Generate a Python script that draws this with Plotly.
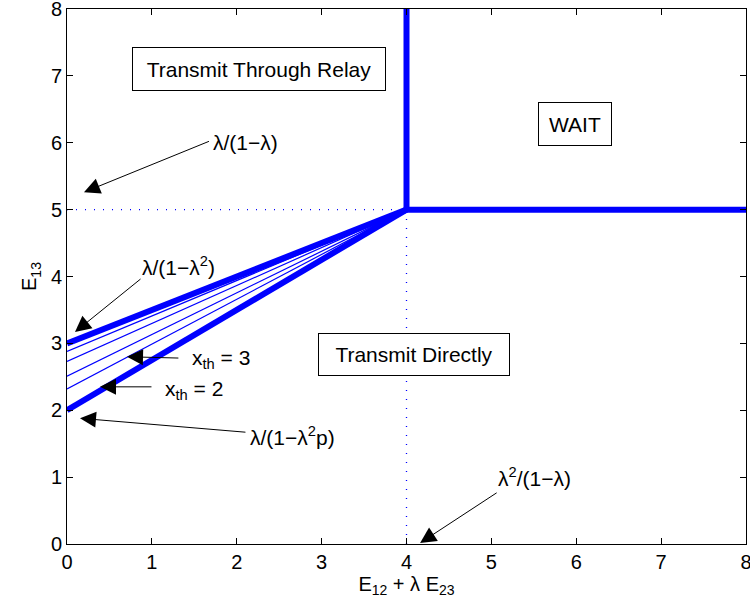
import plotly.graph_objects as go

# ---- data ----
upper_x = [0, 4]
upper_y = [3, 5]
lower_x = [0, 4]
lower_y = [2, 5]
vert_x = [4, 4]
vert_y = [5, 8]
horiz_x = [4, 8]
horiz_y = [5, 5]
thin_intercepts = [2.88, 2.73, 2.51, 2.32]
thin_end = (4, 5)
dot_h_x = [0, 4]
dot_h_y = [5, 5]
dot_v_x = [4, 4]
dot_v_y = [0, 5]

xticks = [0, 1, 2, 3, 4, 5, 6, 7, 8]
yticks = [0, 1, 2, 3, 4, 5, 6, 7, 8]

# arrow annotations: (text, tip_x, tip_y, tail_x, tail_y, text_x, text_y)
arrows = [
    ("λ/(1−λ)", 0.20, 5.26, 1.69, 6.03, 1.70, 6.01),
    ("λ/(1−λ<sup>2</sup>)", 0.094, 3.17, 0.884, 3.98, 0.86, 4.16),
    ("x<sub>th</sub> = 3", 0.707, 2.80, 1.33, 2.78, 1.45, 2.76),
    ("x<sub>th</sub> = 2", 0.389, 2.35, 1.013, 2.35, 1.13, 2.30),
    ("λ/(1−λ<sup>2</sup>p)", 0.153, 1.88, 2.12, 1.67, 2.13, 1.62),
    ("λ<sup>2</sup>/(1−λ)", 4.16, 0.015, 5.08, 0.78, 5.06, 1.00),
]

# boxed labels: (text, center_x, center_y, box_w_px, box_h_px)
boxes = [
    ("Transmit Through Relay", 2.262, 7.103, 254, 44),
    ("WAIT", 5.985, 6.28, 74, 44),
    ("Transmit Directly", 4.088, 2.834, 192, 43),
]

FONT = "Liberation Sans, Arial, Helvetica, sans-serif"
BLUE = "#0000ff"

fig = go.Figure()

for xi, yi in [(upper_x, upper_y), (lower_x, lower_y), (vert_x, vert_y), (horiz_x, horiz_y)]:
    fig.add_trace(go.Scatter(x=xi, y=yi, mode="lines",
                             line=dict(color=BLUE, width=6), hoverinfo="skip"))

for b in thin_intercepts:
    fig.add_trace(go.Scatter(x=[0, thin_end[0]], y=[b, thin_end[1]], mode="lines",
                             line=dict(color=BLUE, width=1.2), hoverinfo="skip"))

for xi, yi in [(dot_h_x, dot_h_y), (dot_v_x, dot_v_y)]:
    fig.add_trace(go.Scatter(x=xi, y=yi, mode="lines",
                             line=dict(color=BLUE, width=1.3, dash="1px,8px"), hoverinfo="skip"))

annotations = []
for text, tx, ty, sx, sy, lx, ly in arrows:
    annotations.append(dict(x=tx, y=ty, ax=sx, ay=sy, xref="x", yref="y",
                            axref="x", ayref="y", text="", showarrow=True,
                            arrowhead=2, arrowsize=3.2, arrowwidth=1,
                            arrowcolor="black", standoff=0, startstandoff=0))
    annotations.append(dict(x=lx, y=ly, xref="x", yref="y", text=text,
                            showarrow=False, xanchor="left", yanchor="middle",
                            font=dict(family=FONT, size=21, color="black")))

for text, bx, by, bw, bh in boxes:
    annotations.append(dict(x=bx, y=by, xref="x", yref="y", text=text,
                            showarrow=False, xanchor="center", yanchor="middle",
                            width=bw - 4, height=bh - 4, align="center", valign="middle",
                            bordercolor="black", borderwidth=1, borderpad=1,
                            bgcolor="white",
                            font=dict(family=FONT, size=21, color="black")))

axis_common = dict(range=[0, 8], showgrid=False, zeroline=False, showline=True,
                   linecolor="black", linewidth=1, mirror="ticks", ticks="inside",
                   ticklen=6, tickcolor="black", automargin=False,
                   ticklabeloverflow="allow",
                   tickfont=dict(family=FONT, size=20, color="black"))

fig.update_layout(
    width=750, height=613,
    margin=dict(l=67, r=4, t=9, b=69),
    paper_bgcolor="white", plot_bgcolor="white",
    showlegend=False,
    annotations=annotations,
    xaxis=dict(**axis_common, tickvals=xticks, ticktext=[str(v) for v in xticks],
               title=dict(text="E<sub>12</sub> + λ E<sub>23</sub>",
                          font=dict(family=FONT, size=20, color="black"), standoff=4)),
    yaxis=dict(**axis_common, tickvals=yticks, ticktext=[str(v) for v in yticks],
               title=dict(text="E<sub>13</sub>",
                          font=dict(family=FONT, size=20, color="black"), standoff=8)),
)

fig.write_html("out.html", config={"displayModeBar": False},
               post_script="document.body.style.margin='0';")
